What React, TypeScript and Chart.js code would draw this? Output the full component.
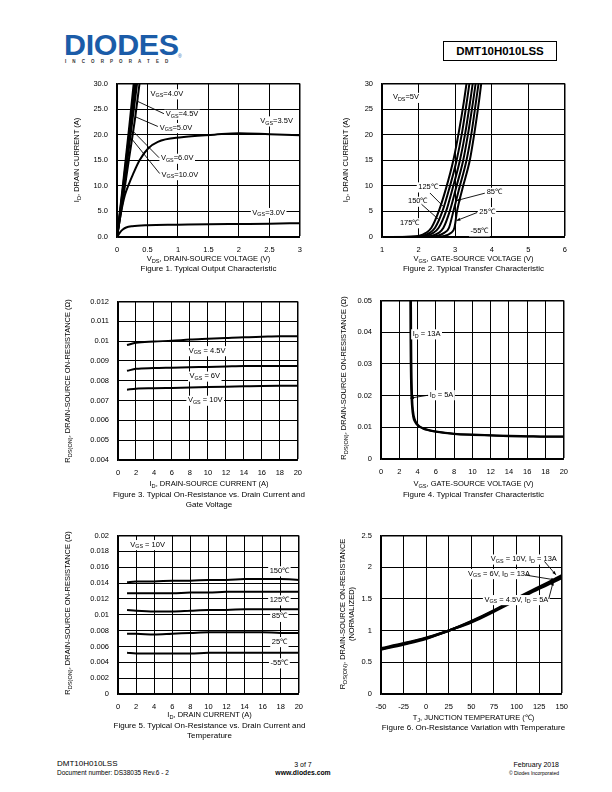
import React, { useEffect, useRef } from "react";
import { Chart, registerables } from "chart.js";

Chart.register(...registerables);

const FONT = "'Liberation Sans', Arial, Helvetica, sans-serif";
const NOTE_FS = 7.5;

// ---------------- Figure 1 : Output characteristic ----------------
const fig1Vds30 = [0, 0.05, 0.1, 0.15, 0.25, 0.5, 1, 1.5, 2, 2.5, 3];
const fig1Id30 = [0, 0.9, 1.5, 1.85, 2.1, 2.3, 2.4, 2.5, 2.55, 2.6, 2.7];
const fig1Vds35 = [0, 0.07, 0.13, 0.2, 0.26, 0.37, 0.51, 0.67, 1.06, 1.6, 2.0, 2.5, 3];
const fig1Id35 = [0, 5, 8.2, 10.5, 12.2, 15.0, 17.3, 18.6, 19.5, 20.0, 20.3, 20.1, 19.9];
const fig1Vds40 = [0, 0.1, 0.2, 0.3, 0.38];
const fig1Id40 = [0, 7.5, 15.5, 23.5, 31];
const fig1Vds45 = [0, 0.1, 0.2, 0.34];
const fig1Id45 = [0, 8.5, 17.8, 31];
const fig1Vds50 = [0, 0.1, 0.2, 0.32];
const fig1Id50 = [0, 9.2, 19, 31];
const fig1Vds60 = [0, 0.1, 0.2, 0.31];
const fig1Id60 = [0, 9.8, 20.2, 32];
const fig1Vds100 = [0, 0.1, 0.2, 0.3];
const fig1Id100 = [0, 10.5, 21.5, 33];

// ---------------- Figure 2 : Transfer characteristic ----------------
const fig2Id = [0, 0.05, 0.2, 0.8, 1.8, 5, 9.5, 15, 20.5, 27, 30.5];
const fig2Vgs175 = [1, 1.8, 2.0, 2.2, 2.35, 2.55, 2.75, 2.95, 3.1, 3.25, 3.32];
const fig2Vgs150 = [1, 1.9, 2.1, 2.3, 2.45, 2.65, 2.84, 3.04, 3.19, 3.33, 3.4];
const fig2Vgs125 = [1, 2.0, 2.2, 2.4, 2.55, 2.75, 2.93, 3.13, 3.28, 3.42, 3.49];
const fig2Vgs85 = [1, 2.15, 2.35, 2.55, 2.68, 2.85, 3.02, 3.22, 3.36, 3.5, 3.57];
const fig2Vgs25 = [1, 2.3, 2.5, 2.7, 2.83, 2.95, 3.11, 3.31, 3.45, 3.58, 3.65];
const fig2VgsM55 = [1, 2.5, 2.7, 2.88, 2.98, 3.05, 3.2, 3.4, 3.53, 3.66, 3.72];

// ---------------- Figure 3 : RDS(on) vs ID and VGS ----------------
const fig3Id = [1, 2, 4, 6, 8, 10, 12, 14, 16, 18, 20];
const fig3R45 = [0.0098, 0.00992, 0.00998, 0.01002, 0.01008, 0.01012, 0.01016, 0.0102, 0.01022, 0.01024, 0.01024];
const fig3R6 = [0.0085, 0.0086, 0.00864, 0.00866, 0.00868, 0.0087, 0.00872, 0.00874, 0.00874, 0.00874, 0.00874];
const fig3R10 = [0.00755, 0.0076, 0.00762, 0.00764, 0.00766, 0.00768, 0.0077, 0.00772, 0.00774, 0.00775, 0.00775];

// ---------------- Figure 4 : RDS(on) vs VGS ----------------
const fig4Vgs13 = [3.28, 3.3, 3.33, 3.38, 3.45, 3.6, 3.8, 4.1, 4.6, 5, 6, 7, 8, 10, 12, 14, 16, 18, 20];
const fig4R13 = [0.052, 0.04, 0.03, 0.022, 0.017, 0.0135, 0.0118, 0.0106, 0.0097, 0.0093, 0.0087, 0.0083, 0.008, 0.0077, 0.0075, 0.0073, 0.0072, 0.0071, 0.0071];
const fig4Vgs5 = [3.2, 3.22, 3.25, 3.3, 3.38, 3.52, 3.75, 4.05, 4.6, 5, 6, 7, 8, 10, 12, 14, 16, 18, 20];
const fig4R5 = [0.052, 0.04, 0.03, 0.022, 0.017, 0.0133, 0.0116, 0.0105, 0.0096, 0.0092, 0.0086, 0.0082, 0.0079, 0.0076, 0.0074, 0.0072, 0.0071, 0.007, 0.007];

// ---------------- Figure 5 : RDS(on) vs ID and temperature ----------------
const fig5Id = [1, 2, 4, 6, 8, 10, 12, 14, 16, 18, 20];
const fig5R150 = [0.0141, 0.0142, 0.0142, 0.0143, 0.0143, 0.0144, 0.0144, 0.0145, 0.0145, 0.0145, 0.0144];
const fig5R125 = [0.0127, 0.0127, 0.0127, 0.0127, 0.0128, 0.0128, 0.0129, 0.0129, 0.0129, 0.0129, 0.0129];
const fig5R85 = [0.0106, 0.0105, 0.0104, 0.0104, 0.0105, 0.0106, 0.0106, 0.0107, 0.0107, 0.0107, 0.0107];
const fig5R25 = [0.0076, 0.0076, 0.0075, 0.0076, 0.0077, 0.0078, 0.0078, 0.0078, 0.0078, 0.0077, 0.0077];
const fig5RM55 = [0.0052, 0.0051, 0.0051, 0.0051, 0.0051, 0.0052, 0.0052, 0.0052, 0.0052, 0.0052, 0.0052];

// ---------------- Figure 6 : normalized RDS(on) vs Tj ----------------
const fig6Tj = [-50, -25, 0, 25, 50, 75, 100, 125, 150];
const fig6R10 = [0.72, 0.8, 0.89, 1.0, 1.15, 1.32, 1.51, 1.69, 1.87];
const fig6R6 = [0.71, 0.79, 0.88, 1.0, 1.14, 1.31, 1.5, 1.68, 1.85];
const fig6R45 = [0.7, 0.78, 0.87, 1.0, 1.13, 1.3, 1.48, 1.66, 1.83];

type Series = { x: number[]; y: number[] };
type Note = { x: number; y: number; t: string; align?: "left" | "center"; line?: number[]; arrow?: boolean };
type Spec = {
  L: number; T: number; R: number; B: number;
  xMin: number; xMax: number; xStep: number;
  yMin: number; yMax: number; yStep: number;
  yFmt?: (v: number) => string;
  lineW?: number;
  series: Series[];
  notes: Note[];
};

const num = (v: number) => String(parseFloat(Number(v).toFixed(6)));

function parseRich(t: string) {
  const out: { s: string; sub: boolean }[] = [];
  const re = /_\{([^}]*)\}/g;
  let last = 0;
  let m: RegExpExecArray | null;
  while ((m = re.exec(t))) {
    if (m.index > last) out.push({ s: t.slice(last, m.index), sub: false });
    out.push({ s: m[1], sub: true });
    last = m.index + m[0].length;
  }
  if (last < t.length) out.push({ s: t.slice(last), sub: false });
  return out;
}

function makeNotesPlugin(notes: Note[]) {
  return {
    id: "notes",
    afterDatasetsDraw(chart: any) {
      const ctx = chart.ctx as CanvasRenderingContext2D;
      const xs = chart.scales.x;
      const ys = chart.scales.y;
      const main = `${NOTE_FS}px ${FONT}`;
      const small = `${NOTE_FS * 0.72}px ${FONT}`;
      ctx.save();
      const items = notes.map((n) => {
        const segs = parseRich(n.t);
        let w = 0;
        const ws = segs.map((s) => {
          ctx.font = s.sub ? small : main;
          const mw = ctx.measureText(s.s).width;
          w += mw;
          return mw;
        });
        const px = xs.getPixelForValue(n.x);
        const py = ys.getPixelForValue(n.y);
        const x0 = n.align === "center" ? px - w / 2 : px;
        return { n, segs, ws, w, x0, py };
      });
      ctx.fillStyle = "#fff";
      for (const it of items) {
        ctx.fillRect(it.x0 - 1.5, it.py - NOTE_FS * 0.6, it.w + 3, NOTE_FS * 1.35);
      }
      ctx.strokeStyle = "#000";
      ctx.fillStyle = "#000";
      ctx.lineWidth = 0.9;
      for (const it of items) {
        const l = it.n.line;
        if (!l) continue;
        const x1 = xs.getPixelForValue(l[0]);
        const y1 = ys.getPixelForValue(l[1]);
        const x2 = xs.getPixelForValue(l[2]);
        const y2 = ys.getPixelForValue(l[3]);
        ctx.beginPath();
        ctx.moveTo(x1, y1);
        ctx.lineTo(x2, y2);
        ctx.stroke();
        if (it.n.arrow) {
          const a = Math.atan2(y2 - y1, x2 - x1);
          const s = 4;
          ctx.beginPath();
          ctx.moveTo(x2, y2);
          ctx.lineTo(x2 - s * Math.cos(a - 0.4), y2 - s * Math.sin(a - 0.4));
          ctx.lineTo(x2 - s * Math.cos(a + 0.4), y2 - s * Math.sin(a + 0.4));
          ctx.closePath();
          ctx.fill();
        }
      }
      ctx.textBaseline = "middle";
      ctx.textAlign = "left";
      for (const it of items) {
        let x = it.x0;
        it.segs.forEach((s, i) => {
          ctx.font = s.sub ? small : main;
          ctx.fillText(s.s, x, s.sub ? it.py + NOTE_FS * 0.3 : it.py);
          x += it.ws[i];
        });
      }
      ctx.restore();
    },
  };
}

const PADL = 48, PADT = 8, PADR = 10, PADB = 22;

function buildChart(canvas: HTMLCanvasElement, spec: Spec) {
  const tickFont = { family: FONT, size: 7.5 };
  return new Chart(canvas, {
    type: "scatter",
    data: {
      datasets: spec.series.map((s) => ({
        data: s.x.map((x, i) => ({ x, y: s.y[i] })),
        showLine: true,
        borderColor: "#000",
        backgroundColor: "#000",
        borderWidth: spec.lineW ?? 2,
        pointRadius: 0,
        cubicInterpolationMode: "monotone" as const,
        fill: false,
      })),
    },
    options: {
      animation: false,
      responsive: false,
      maintainAspectRatio: false,
      devicePixelRatio: 1,
      events: [],
      layout: { padding: { top: PADT, right: PADR, left: 0, bottom: 0 } },
      plugins: { legend: { display: false }, tooltip: { enabled: false } },
      scales: {
        x: {
          type: "linear",
          min: spec.xMin,
          max: spec.xMax,
          ticks: {
            stepSize: spec.xStep,
            color: "#000",
            font: tickFont,
            padding: 8,
            maxRotation: 0,
            autoSkip: false,
            callback: (v: any) => num(v),
          },
          grid: {
            color: "#000",
            drawTicks: false,
            lineWidth: (c: any) => (c.index === c.scale.ticks.length - 1 ? 1.5 : 1),
          },
          border: { color: "#000", width: 1.5 },
          afterFit: (s: any) => { s.height = PADB; },
        },
        y: {
          type: "linear",
          min: spec.yMin,
          max: spec.yMax,
          ticks: {
            stepSize: spec.yStep,
            color: "#000",
            font: tickFont,
            padding: 9,
            autoSkip: false,
            callback: (v: any) => (spec.yFmt ? spec.yFmt(v) : num(v)),
          },
          grid: {
            color: "#000",
            drawTicks: false,
            lineWidth: (c: any) => (c.index === c.scale.ticks.length - 1 ? 1.5 : 1),
          },
          border: { color: "#000", width: 1.5 },
          afterFit: (s: any) => { s.width = PADL; },
        },
      },
    },
    plugins: [makeNotesPlugin(spec.notes)],
  } as any);
}

function ChartBox({ spec }: { spec: Spec }) {
  const ref = useRef<HTMLCanvasElement>(null);
  const w = PADL + spec.R - spec.L + PADR;
  const h = PADT + spec.B - spec.T + PADB;
  useEffect(() => {
    const c = buildChart(ref.current as HTMLCanvasElement, spec);
    return () => c.destroy();
  }, []);
  return (
    <canvas
      ref={ref}
      width={w}
      height={h}
      style={{ position: "absolute", left: spec.L - PADL, top: spec.T - PADT, width: w, height: h }}
    />
  );
}

function Rich({ text }: { text: string }) {
  return (
    <>
      {parseRich(text).map((p, i) =>
        p.sub ? (
          <span key={i} style={{ fontSize: "0.75em", position: "relative", top: "0.3em" }}>{p.s}</span>
        ) : (
          <span key={i}>{p.s}</span>
        )
      )}
    </>
  );
}

function Label({ x, y, text, size = 7.5, rotate = false, bold = false, align = "center" }: any) {
  const tx = align === "center" ? "-50%" : align === "right" ? "-100%" : "0";
  return (
    <div
      style={{
        position: "absolute",
        left: x,
        top: y,
        transform: `translate(${tx},-50%)${rotate ? " rotate(-90deg)" : ""}`,
        transformOrigin: rotate ? "center center" : undefined,
        whiteSpace: "nowrap",
        fontFamily: FONT,
        fontSize: size,
        fontWeight: bold ? "bold" : "normal",
        lineHeight: 1,
        color: "#000",
        textAlign: "center",
      }}
    >
      <Rich text={text} />
    </div>
  );
}

const spec1: Spec = {
  L: 117, T: 78, R: 300, B: 237,
  xMin: 0, xMax: 3, xStep: 0.5, yMin: 0, yMax: 30, yStep: 5,
  yFmt: (v) => Number(v).toFixed(1),
  series: [
    { x: fig1Vds30, y: fig1Id30 },
    { x: fig1Vds35, y: fig1Id35 },
    { x: fig1Vds40, y: fig1Id40 },
    { x: fig1Vds45, y: fig1Id45 },
    { x: fig1Vds50, y: fig1Id50 },
    { x: fig1Vds60, y: fig1Id60 },
    { x: fig1Vds100, y: fig1Id100 },
  ],
  notes: [
    { x: 0.55, y: 28.0, t: "V_{GS}=4.0V" },
    { x: 0.8, y: 24.0, t: "V_{GS}=4.5V", line: [0.34, 26.5, 0.77, 24.1] },
    { x: 0.7, y: 21.4, t: "V_{GS}=5.0V", line: [0.3, 23.5, 0.67, 21.6] },
    { x: 0.72, y: 15.4, t: "V_{GS}=6.0V", line: [0.26, 20.7, 0.69, 15.5] },
    { x: 0.73, y: 12.2, t: "V_{GS}=10.0V", line: [0.24, 19.2, 0.7, 12.4] },
    { x: 2.35, y: 22.7, t: "V_{GS}=3.5V" },
    { x: 2.22, y: 4.8, t: "V_{GS}=3.0V" },
  ],
};

const spec2: Spec = {
  L: 382, T: 78, R: 565, B: 237,
  xMin: 1, xMax: 6, xStep: 1, yMin: 0, yMax: 30, yStep: 5,
  series: [
    { x: fig2Vgs175, y: fig2Id },
    { x: fig2Vgs150, y: fig2Id },
    { x: fig2Vgs125, y: fig2Id },
    { x: fig2Vgs85, y: fig2Id },
    { x: fig2Vgs25, y: fig2Id },
    { x: fig2VgsM55, y: fig2Id },
  ],
  notes: [
    { x: 1.3, y: 27.3, t: "V_{DS}=5V" },
    { x: 1.99, y: 9.8, t: "125℃", line: [2.31, 8.6, 2.7, 5.8] },
    { x: 1.71, y: 7.0, t: "150℃", line: [2.08, 6.4, 2.57, 3.3] },
    { x: 1.49, y: 2.8, t: "175℃" },
    { x: 3.86, y: 8.75, t: "85℃", line: [3.81, 8.56, 3.04, 7.12], arrow: true },
    { x: 3.66, y: 4.97, t: "25℃", line: [3.6, 4.78, 3.04, 3.21], arrow: true },
    { x: 3.42, y: 1.2, t: "-55℃" },
  ],
};

const spec3: Spec = {
  L: 118, T: 296, R: 300, B: 460,
  xMin: 0, xMax: 20, xStep: 2, yMin: 0.004, yMax: 0.012, yStep: 0.001,
  series: [
    { x: fig3Id, y: fig3R45 },
    { x: fig3Id, y: fig3R6 },
    { x: fig3Id, y: fig3R10 },
  ],
  notes: [
    { x: 9.9, y: 0.00952, t: "V_{GS} = 4.5V", align: "center" },
    { x: 9.65, y: 0.00824, t: "V_{GS} = 6V", align: "center" },
    { x: 9.7, y: 0.00702, t: "V_{GS} = 10V", align: "center" },
  ],
};

const spec4: Spec = {
  L: 381, T: 295, R: 566, B: 459,
  xMin: 0, xMax: 20, xStep: 2, yMin: 0, yMax: 0.05, yStep: 0.01,
  series: [
    { x: fig4Vgs13, y: fig4R13 },
    { x: fig4Vgs5, y: fig4R5 },
  ],
  notes: [
    { x: 3.46, y: 0.0395, t: "I_{D} = 13A" },
    { x: 5.32, y: 0.0203, t: "I_{D} = 5A", line: [5.11, 0.0201, 3.2, 0.0192], arrow: true },
  ],
};

const spec5: Spec = {
  L: 118, T: 530, R: 301, B: 694,
  xMin: 0, xMax: 20, xStep: 2, yMin: 0, yMax: 0.02, yStep: 0.002,
  series: [
    { x: fig5Id, y: fig5R150 },
    { x: fig5Id, y: fig5R125 },
    { x: fig5Id, y: fig5R85 },
    { x: fig5Id, y: fig5R25 },
    { x: fig5Id, y: fig5RM55 },
  ],
  notes: [
    { x: 1.35, y: 0.01886, t: "V_{GS} = 10V" },
    { x: 17.85, y: 0.01555, t: "150℃", align: "center" },
    { x: 17.85, y: 0.01188, t: "125℃", align: "center" },
    { x: 17.85, y: 0.0098, t: "85℃", align: "center" },
    { x: 17.85, y: 0.00662, t: "25℃", align: "center" },
    { x: 17.85, y: 0.00394, t: "-55℃", align: "center" },
  ],
};

const spec6: Spec = {
  L: 381, T: 530, R: 566, B: 694,
  xMin: -50, xMax: 150, xStep: 25, yMin: 0, yMax: 2.5, yStep: 0.5,
  lineW: 2.4,
  series: [
    { x: fig6Tj, y: fig6R10 },
    { x: fig6Tj, y: fig6R6 },
    { x: fig6Tj, y: fig6R45 },
  ],
  notes: [
    { x: 71.5, y: 2.13, t: "V_{GS} = 10V, I_{D} = 13A", line: [130.9, 2.09, 143.5, 1.88], arrow: true },
    { x: 46.4, y: 1.9, t: "V_{GS} = 6V, I_{D} = 13A", line: [110.4, 1.875, 142.5, 1.8], arrow: true },
    { x: 64.4, y: 1.49, t: "V_{GS} = 4.5V, I_{D} = 5A", line: [135.6, 1.5, 140.6, 1.77], arrow: true },
  ],
};

const RDS = "R_{DS(ON)}, DRAIN-SOURCE ON-RESISTANCE (Ω)";

export default function App() {
  return (
    <div style={{ position: "absolute", left: 0, top: 0, width: 612, height: 792, background: "#fff", overflow: "hidden" }}>
      {/* header */}
      <div
        style={{
          position: "absolute", left: 64, top: 31, fontFamily: FONT, fontWeight: "bold",
          fontSize: 29, lineHeight: 1, color: "#1b5ca8", letterSpacing: -0.3, whiteSpace: "nowrap",
          transform: "scaleX(1.05)", transformOrigin: "left center",
        }}
      >
        DIODES
      </div>
      <div style={{ position: "absolute", left: 178, top: 54, fontFamily: FONT, fontSize: 5, color: "#1b5ca8", lineHeight: 1 }}>®</div>
      <div
        style={{
          position: "absolute", left: 65, top: 59.5, fontFamily: FONT, fontWeight: "bold",
          fontSize: 4.5, letterSpacing: 6.1, color: "#333", lineHeight: 1, whiteSpace: "nowrap",
        }}
      >
        INCORPORATED
      </div>
      <div
        style={{
          position: "absolute", left: 443, top: 41, width: 114, height: 20, boxSizing: "border-box",
          border: "1px solid #000", display: "flex", alignItems: "center", justifyContent: "center",
          fontFamily: FONT, fontWeight: "bold", fontSize: 11.5,
        }}
      >
        DMT10H010LSS
      </div>

      {/* charts */}
      <ChartBox spec={spec1} />
      <ChartBox spec={spec2} />
      <ChartBox spec={spec3} />
      <ChartBox spec={spec4} />
      <ChartBox spec={spec5} />
      <ChartBox spec={spec6} />

      {/* figure 1 texts */}
      <Label x={77} y={160} rotate text="I_{D}, DRAIN CURRENT (A)" />
      <Label x={208.5} y={259} text="V_{DS}, DRAIN-SOURCE VOLTAGE (V)" />
      <Label x={208.5} y={269} size={8} text="Figure 1. Typical Output Characteristic" />

      {/* figure 2 texts */}
      <Label x={346} y={160} rotate text="I_{D}, DRAIN CURRENT (A)" />
      <Label x={473.5} y={259} text="V_{GS}, GATE-SOURCE VOLTAGE (V)" />
      <Label x={473.5} y={269} size={8} text="Figure 2. Typical Transfer Characteristic" />

      {/* figure 3 texts */}
      <Label x={68} y={381} rotate text={RDS} />
      <Label x={209} y={484} text="I_{D}, DRAIN-SOURCE CURRENT (A)" />
      <Label x={209} y={495} size={8} text="Figure 3. Typical On-Resistance vs. Drain Current and" />
      <Label x={209} y={505} size={8} text="Gate Voltage" />

      {/* figure 4 texts */}
      <Label x={344} y={378} rotate text={RDS} />
      <Label x={473.5} y={484} text="V_{GS}, GATE-SOURCE VOLTAGE (V)" />
      <Label x={473.5} y={495} size={8} text="Figure 4. Typical Transfer Characteristic" />

      {/* figure 5 texts */}
      <Label x={68} y={613} rotate text={RDS} />
      <Label x={209.5} y={715} text="I_{D}, DRAIN CURRENT (A)" />
      <Label x={209.5} y={726} size={8} text="Figure 5. Typical On-Resistance vs. Drain Current and" />
      <Label x={209.5} y={736} size={8} text="Temperature" />

      {/* figure 6 texts */}
      <Label x={343} y={614} rotate text="R_{DS(ON)}, DRAIN-SOURCE ON-RESISTANCE" />
      <Label x={351.5} y={614} rotate text="(NORMALIZED)" />
      <Label x={473.5} y={718} text="T_{J}, JUNCTION TEMPERATURE (℃)" />
      <Label x={473.5} y={728} size={8} text="Figure 6. On-Resistance Variation with Temperature" />

      {/* footer */}
      <Label x={57} y={764} size={8} align="left" text="DMT10H010LSS" />
      <Label x={57} y={773} size={6.5} align="left" text="Document number: DS38035 Rev.6 - 2" />
      <Label x={303} y={763.5} size={7} text="3 of 7" />
      <Label x={303} y={773} size={6.8} bold text="www.diodes.com" />
      <Label x={559} y={764} size={7} align="right" text="February 2018" />
      <Label x={559} y={773} size={5} align="right" text="© Diodes Incorporated" />
    </div>
  );
}
